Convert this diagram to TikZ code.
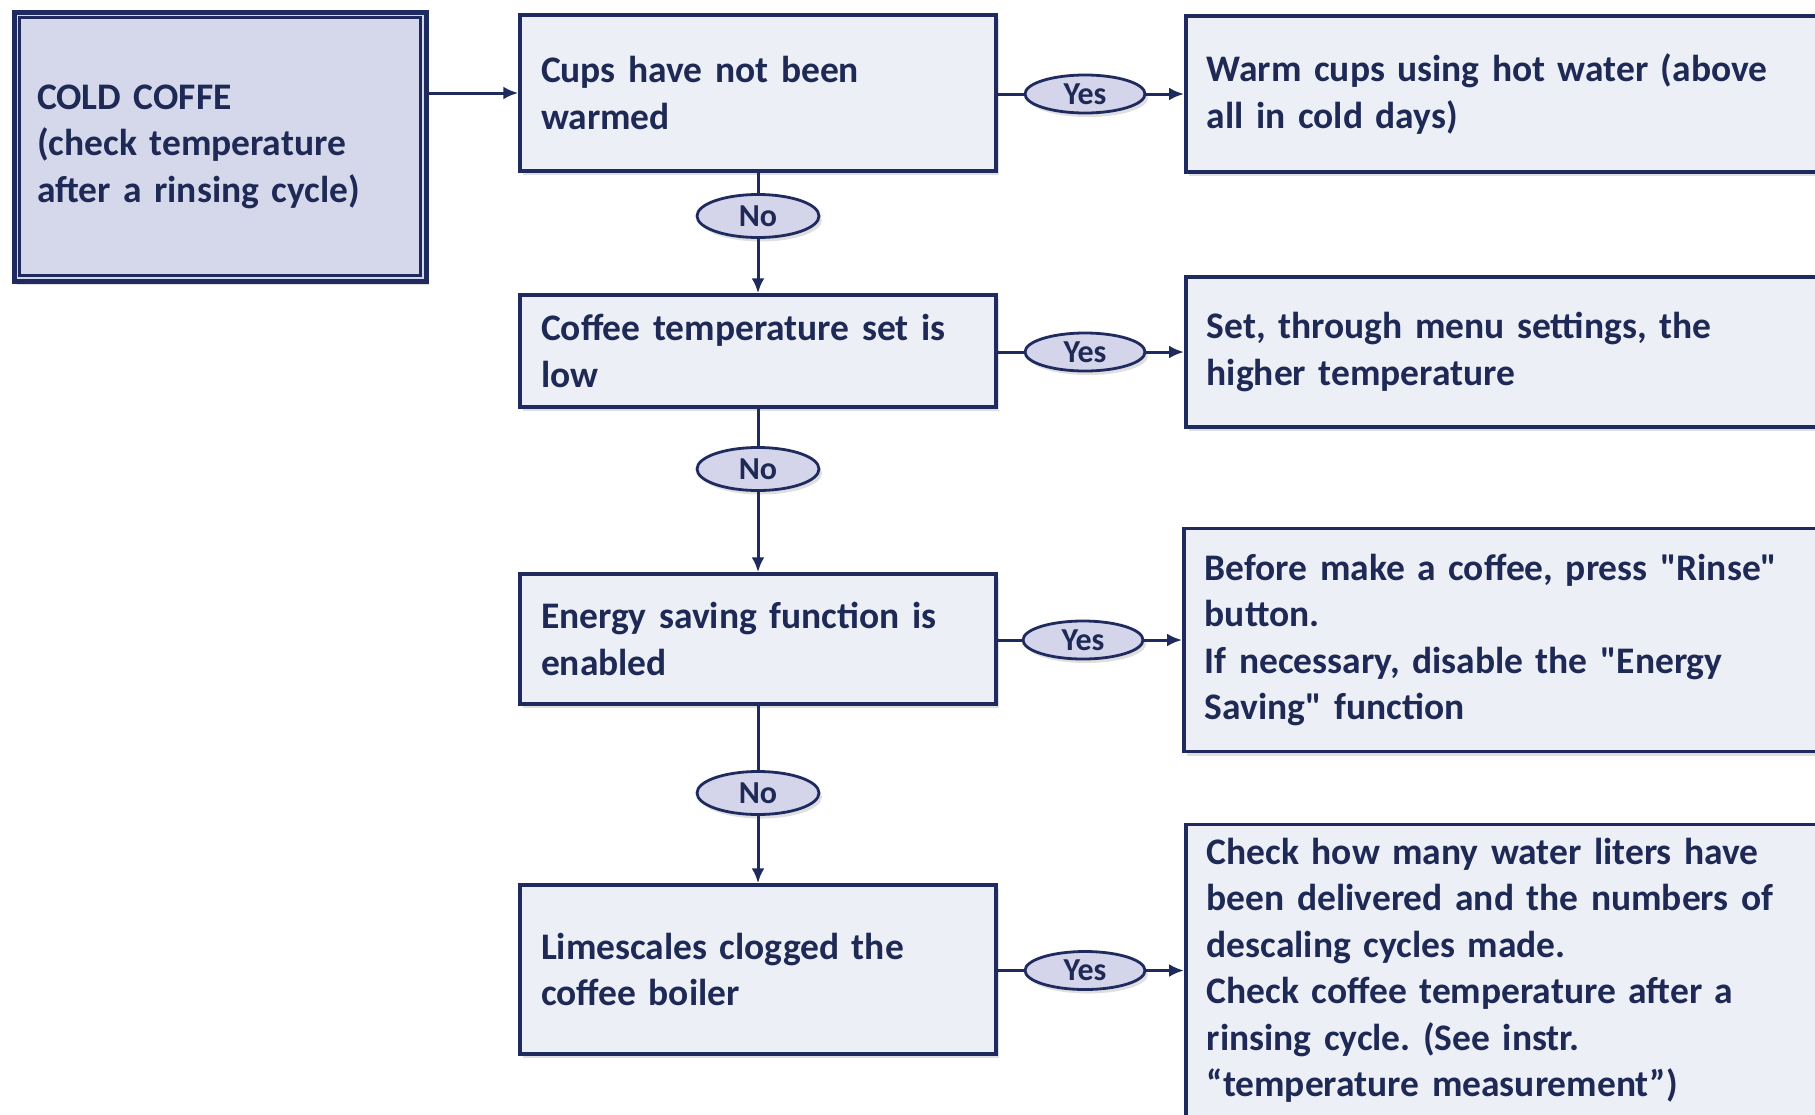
\documentclass[tikz,border=0pt]{standalone}
\usepackage{fontspec}
\setmainfont{Carlito}
\usetikzlibrary{shapes.geometric,shadows,arrows.meta}
\definecolor{navy}{HTML}{1F2B5E}
\definecolor{txt}{HTML}{1E2A55}
\definecolor{boxfill}{HTML}{ECEFF6}
\definecolor{startfill}{HTML}{D5D8EA}
\definecolor{ellfill}{HTML}{D4D5EB}
\tikzset{
  shad/.style={drop shadow={opacity=0.25, shadow xshift=3pt, shadow yshift=-4pt}},
  box/.style={draw=navy, line width=3.5pt, fill=boxfill, rectangle, inner xsep=21pt, inner ysep=0pt,
    align=left, text=txt, font=\fontsize{37.5}{46.5}\selectfont\bfseries\frenchspacing, shad},
  rbox/.style={box, anchor=west, minimum width=660pt, text width=618pt},
  mbox/.style={box, minimum width=476pt, text width=434pt},
  startbox/.style={box, fill=startfill, line width=5pt, minimum width=412pt, minimum height=269pt,
    inner xsep=23pt, text width=366pt},
  ell/.style={ellipse, draw=navy, line width=2.8pt, fill=ellfill, minimum width=120pt, minimum height=38pt,
    inner sep=0pt, text=txt, font=\fontsize{32}{34}\selectfont\bfseries, shad},
  nell/.style={ell, minimum width=122pt, minimum height=43pt},
  conn/.style={draw=navy, line width=3pt},
  arr/.style={conn, -{Latex[length=15pt,width=13pt]}}
}
\begin{document}
\begin{tikzpicture}[x=1pt,y=-1pt]
\useasboundingbox (0,0) rectangle (1815,1114);
\fill[white] (0,0) rectangle (1815,1114);
\clip (0,0) rectangle (1815,1114);
% start box
\node[startbox] (start) at (220,146.5) {COLD COFFE\\(check temperature\\after a rinsing cycle)};
\draw[navy, line width=2.2pt] ([shift={(8pt,-8pt)}]start.north west) rectangle ([shift={(-8pt,8pt)}]start.south east);
% main column
\node[mbox, minimum height=156pt] (A) at (758,93) {Cups have not been\\warmed};
\node[mbox, minimum height=112pt] (B) at (758,351) {Coffee temperature set is\\low};
\node[mbox, minimum height=130pt] (C) at (758,639) {Energy saving function is\\enabled};
\node[mbox, minimum height=169pt] (D) at (758,969.5) {Limescales clogged the\\coffee boiler};
% right column
\node[rbox, minimum height=156pt] (R1) at (1184,94) {Warm cups using hot water (above\\all in cold days)};
\node[rbox, minimum height=150pt] (R2) at (1184,352) {Set, through menu settings, the\\higher temperature};
\node[rbox, minimum height=223pt] (R3) at (1182,640) {Before make a coffee, press \textquotedbl Rinse\textquotedbl\\button.\\If necessary, disable the \textquotedbl Energy\\Saving\textquotedbl\ function};
\node[rbox, minimum height=292pt] (R4) at (1184,970.5) {Check how many water liters have\\been delivered and the numbers of\\descaling cycles made.\\Check coffee temperature after a\\rinsing cycle. (See instr.\\“temperature measurement”)};
% ellipses
\node[ell] (y1) at (1085,94) {Yes};
\node[ell] (y2) at (1085,352) {Yes};
\node[ell] (y3) at (1083,640) {Yes};
\node[ell] (y4) at (1085,970.5) {Yes};
\node[nell] (n1) at (758,216) {No};
\node[nell] (n2) at (758,469) {No};
\node[nell] (n3) at (758,793) {No};
% connectors
\draw[arr] (start.east |- A.west) -- (A.west);
\draw[conn] (A.east |- y1.west) -- (y1.west);
\draw[arr] (y1.east) -- (R1.west);
\draw[conn] (B.east |- y2.west) -- (y2.west);
\draw[arr] (y2.east) -- (R2.west);
\draw[conn] (C.east |- y3.west) -- (y3.west);
\draw[arr] (y3.east) -- (R3.west);
\draw[conn] (D.east |- y4.west) -- (y4.west);
\draw[arr] (y4.east) -- (R4.west);
\draw[conn] (A.south) -- (n1.north);
\draw[arr] (n1.south) -- (B.north);
\draw[conn] (B.south) -- (n2.north);
\draw[arr] (n2.south) -- (C.north);
\draw[conn] (C.south) -- (n3.north);
\draw[arr] (n3.south) -- (D.north);
\end{tikzpicture}
\end{document}
